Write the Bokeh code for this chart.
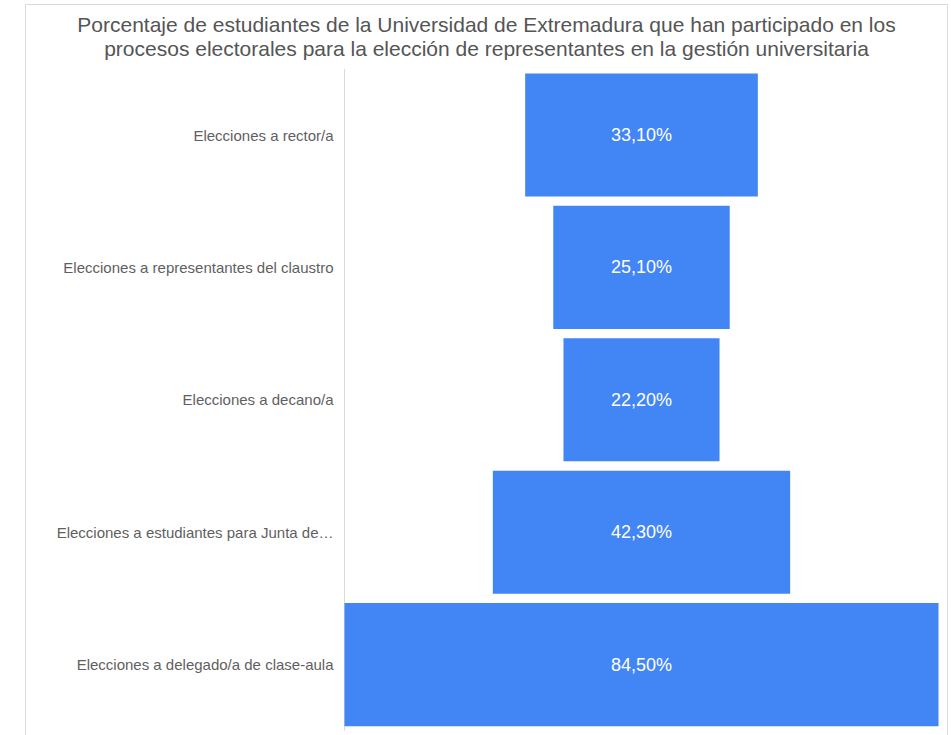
from bokeh.plotting import figure
from bokeh.models import Range1d, ColumnDataSource
from bokeh.core.properties import value
from bokeh.embed import file_html
from bokeh.resources import INLINE

title_lines = [
    "Porcentaje de estudiantes de la Universidad de Extremadura que han participado en los",
    "procesos electorales para la elección de representantes en la gestión universitaria",
]
categories = [
    "Elecciones a rector/a",
    "Elecciones a representantes del claustro",
    "Elecciones a decano/a",
    "Elecciones a estudiantes para Junta de…",
    "Elecciones a delegado/a de clase-aula",
]
values = [33.1, 25.1, 22.2, 42.3, 84.5]
value_labels = ["33,10%", "25,10%", "22,20%", "42,30%", "84,50%"]

FONT = "Liberation Sans"

# ---- layout (page pixels) ----
W, H = 949, 745
BOX_L, BOX_R, BOX_T, BOX_B = 25, 947, 4, 745     # outer box == frame
AXIS_X = 344          # where the category axis sits
BAR_R = 938           # right edge of the widest bar
ROW0_Y, ROW_PITCH = 134.5, 132.4                 # first row centre, row pitch
TITLE_Y = [24, 48]

vmax = max(values)
ppu = (BAR_R - AXIS_X) / vmax                     # pixels per unit
cx = (AXIS_X + BAR_R) / 2
x0 = (BOX_L - cx) / ppu
x1 = (BOX_R - cx) / ppu
y_top = (BOX_T - ROW0_Y) / ROW_PITCH
y_bot = (BOX_B - ROW0_Y) / ROW_PITCH

n = len(categories)
rows = list(range(n))
src = ColumnDataSource(dict(
    row=rows,
    left=[-v / 2 for v in values],
    right=[v / 2 for v in values],
    mid=[0.0] * n,
    lab=value_labels,
    cat=categories,
    catx=[-vmax / 2] * n,
))

p = figure(
    width=W, height=H,
    x_range=Range1d(x0, x1), y_range=Range1d(y_bot, y_top),
    output_backend="svg", toolbar_location=None,
    x_axis_location=None, y_axis_location=None,
    min_border_left=BOX_L, min_border_right=W - BOX_R,
    min_border_top=BOX_T, min_border_bottom=H - BOX_B,
    margin=(0, 0, -10, 0),
)
p.outline_line_color = "#d9d9d9"
p.outline_line_width = 1
p.xgrid.visible = False
p.ygrid.visible = False
p.background_fill_color = "white"
p.border_fill_color = "white"

# category axis line (spans the category band) and labels
p.segment(x0=[-vmax / 2], y0=[-0.5], x1=[-vmax / 2], y1=[n - 0.5],
          line_color="#d9d9d9", line_width=1)

p.hbar(y="row", left="left", right="right", height=0.93, source=src,
       fill_color="#4285f4", line_color=None)
p.text(x="mid", y="row", text="lab", source=src, text_align="center",
       text_baseline="middle", text_color="white",
       text_font=value(FONT), text_font_size="18px")

p.text(x="catx", y="row", text="cat", source=src, x_offset=-11,
       text_align="right", text_baseline="middle", text_color="#5f5f5f",
       text_font=value(FONT), text_font_size="15px")

# title
ty = [(t - ROW0_Y) / ROW_PITCH for t in TITLE_Y]
p.text(x=[(x0 + x1) / 2] * 2, y=ty, text=title_lines, text_align="center",
       text_baseline="middle", text_color="#555555",
       text_font=value(FONT), text_font_size="21px")

open("out.html", "w").write(file_html(p, INLINE))
